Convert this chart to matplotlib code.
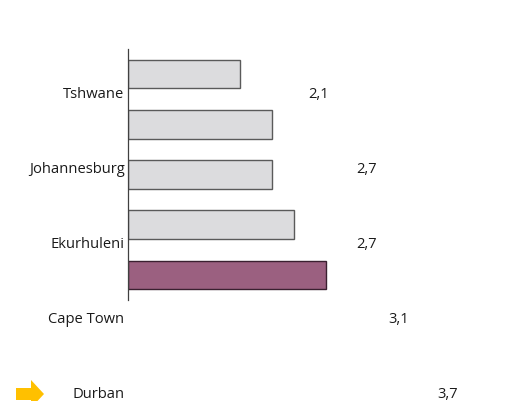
import matplotlib
matplotlib.use("Agg")
import matplotlib.pyplot as plt
from matplotlib.patches import Polygon
import matplotlib.transforms as mtransforms

categories = ["Tshwane", "Johannesburg", "Ekurhuleni", "Cape Town", "Durban"]
bar_values = [2.1, 2.7, 2.7, 3.1, 3.7]
label_values = [2.1, 2.7, 2.7, 3.1, 3.7]
highlight = "Durban"

W, H = 524, 401
fig = plt.figure(figsize=(W / 100, H / 100), dpi=100)
plt.rcParams['font.family'] = ['Open Sans', 'DejaVu Sans']
FS = 10.6

# main bar axes: left spine at x=128px, from y=49px to 300px
left, top, bottom = 128, 49, 300
width_px = 214
pos = [left / W, (H - bottom) / H, width_px / W, (bottom - top) / H]
ax = fig.add_axes(pos)
ypos = list(range(len(categories)))
colors = ["#9B6080" if c == highlight else "#DCDCDE" for c in categories]
edges = ["#3A2030" if c == highlight else "#5A5A5A" for c in categories]
ax.barh(ypos, bar_values, height=0.57, color=colors, edgecolor=edges, linewidth=1.0)
ax.set_ylim(len(categories) - 0.5, -0.5)
ax.set_xlim(0, width_px / 53.5)
for s in ["top", "right", "bottom"]:
    ax.spines[s].set_visible(False)
ax.spines["left"].set_color("#404040")
ax.spines["left"].set_linewidth(0.9)
ax.set_xticks([])
ax.set_yticks([])
ax.patch.set_alpha(0)

# label axes (offset layout)
ax2 = fig.add_axes(pos)
ax2.set_axis_off()
slope = 4 / 299
y_top = -46 * slope
y_bot = y_top + (bottom - top) * slope
ax2.set_ylim(y_bot, y_top)
ax2.set_xlim(-0.2605, 2.395)
trans = mtransforms.blended_transform_factory(ax2.transAxes, ax2.transData)
for i, c in enumerate(categories):
    ax2.text(-0.016, i, c, transform=trans, ha="right", va="center",
             fontsize=FS, color="#1a1a1a", clip_on=False)
for i, v in enumerate(label_values):
    ax2.text(v, i, f"{v:.1f}".replace(".", ","), ha="center", va="center",
             fontsize=FS, color="#1a1a1a", clip_on=False)

# yellow pointer arrow next to highlighted row
hi = categories.index(highlight)
ax3 = fig.add_axes([0, 0, 1, 1])
ax3.set_axis_off()
ax3.set_xlim(0, W)
ax3.set_ylim(H, 0)
yc = H - ax2.transData.transform((0, hi))[1]
arrow = Polygon([(16, yc - 6), (31, yc - 6), (31, yc - 14), (44, yc),
                 (31, yc + 14), (31, yc + 6), (16, yc + 6)],
                closed=True, facecolor="#FFC000", edgecolor="none")
ax3.add_patch(arrow)

fig.savefig("out.png", dpi=100)
